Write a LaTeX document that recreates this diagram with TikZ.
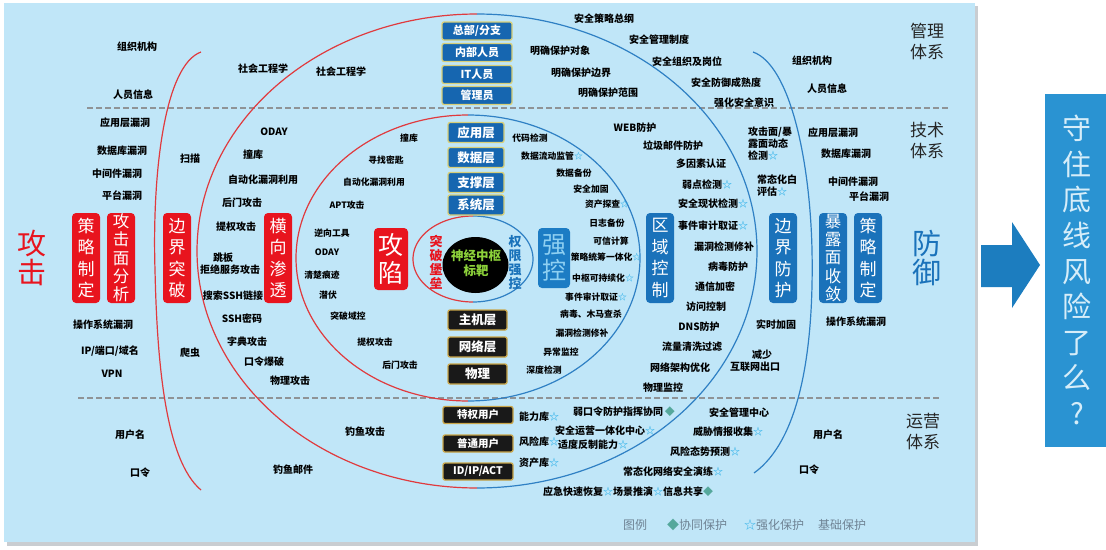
\documentclass[tikz,border=0pt]{standalone}
\usepackage{fontspec}
\setmainfont{Noto Sans CJK SC}
\usetikzlibrary{shapes.geometric}
\definecolor{panel}{HTML}{C0E6F8}
\definecolor{shadowc}{HTML}{C9CDD1}
\definecolor{atk}{HTML}{E8141E}
\definecolor{atkline}{HTML}{E03A3E}
\definecolor{dfn}{HTML}{1A72BA}
\definecolor{dfnline}{HTML}{2F80C4}
\definecolor{boxblue}{HTML}{1666B0}
\definecolor{boxedge}{HTML}{D8CF78}
\definecolor{goldedge}{HTML}{C9A64A}
\definecolor{dashc}{HTML}{8F9396}
\definecolor{starc}{HTML}{35B3EA}
\definecolor{diac}{HTML}{55A89C}
\definecolor{legc}{HTML}{6F8394}
\definecolor{neuro}{HTML}{8CD13A}
\definecolor{qbox}{HTML}{2A93D2}
\definecolor{qtext}{HTML}{D6EDF9}
\definecolor{arrowc}{HTML}{1C7DBF}
\definecolor{qiangbox}{HTML}{1C7CC4}
\definecolor{qiangtxt}{HTML}{8FD0F2}
\newcommand\mystar{{\color{starc}☆}}
\newcommand\mydia{{\color{diac}◆}}
\tikzset{
  lb/.style={inner sep=0pt, font=\fontsize{10}{12}\selectfont\bfseries},
  ls/.style={inner sep=0pt, font=\fontsize{8.8}{10}\selectfont\bfseries},
  vbox/.style={rounded corners=4pt, minimum width=28pt, minimum height=90pt, inner sep=0pt, text=white, align=center},
  redv/.style={vbox, fill=atk},
  bluev/.style={vbox, fill=dfn},
  fourc/.style={font=\fontsize{17}{21.5}\selectfont},
  fivec/.style={font=\fontsize{16.5}{18.3}\selectfont},
  mgmt/.style={draw=boxedge, line width=1.3pt, fill=boxblue, rounded corners=2pt, minimum width=70pt, minimum height=18pt, inner sep=0pt, text=white, font=\fontsize{11}{12}\selectfont\bfseries},
  tech/.style={draw=boxedge, line width=1.3pt, fill=boxblue, rounded corners=2pt, minimum width=56pt, minimum height=20pt, inner sep=0pt, text=white, font=\fontsize{12.5}{13}\selectfont\bfseries},
  blk/.style={draw=goldedge, line width=1.3pt, fill=black!90, rounded corners=2pt, minimum width=59pt, minimum height=20pt, inner sep=0pt, text=white, font=\fontsize{12.5}{13}\selectfont\bfseries},
  ops/.style={draw=goldedge, line width=1.3pt, fill=black!90, rounded corners=2pt, minimum width=70pt, minimum height=17pt, inner sep=0pt, text=white, font=\fontsize{10.5}{12}\selectfont\bfseries},
  sect/.style={inner sep=0pt, align=center, text=black!85, font=\fontsize{17}{21}\selectfont},
  redl/.style={atkline, line width=1.2pt},
  bluel/.style={dfnline, line width=1.2pt},
  dashl/.style={dashc, line width=1.6pt, dash pattern=on 6pt off 3pt},
  leg/.style={inner sep=0pt, text=legc, font=\fontsize{12}{14}\selectfont},
}
\begin{document}
\begin{tikzpicture}[x=1pt,y=-1pt]
\useasboundingbox (0,0) rectangle (1106,549);
\fill[white] (0,0) rectangle (1106,549);
\fill[shadowc] (7,6) rectangle (978,546);
\fill[panel] (4,3) rectangle (975,542);

% separators
\draw[dashl] (87,108) -- (948,108);
\draw[dashl] (78,398) -- (940,398);

% outer brackets
\draw[redl] (201,52) .. controls (165,65) and (152,170) .. (155,270) .. controls (157,360) and (165,460) .. (201,490);
\draw[bluel] (753,52) .. controls (790,65) and (810,160) .. (812,250) .. controls (814,350) and (800,440) .. (754,473);

% big ellipse
\draw[redl] plot[domain=90:270, samples=90, smooth] ({477+280*cos(\x)}, {251+237*sin(\x)});
\draw[bluel] plot[domain=-90:90, samples=90, smooth] ({477+280*cos(\x)}, {251+237*sin(\x)});
% medium ellipse
\draw[redl] plot[domain=90:270, samples=80, smooth] ({468+172*cos(\x)}, {258+143*sin(\x)});
\draw[bluel] plot[domain=-90:90, samples=80, smooth] ({468+172*cos(\x)}, {258+143*sin(\x)});
% small ellipse
\draw[redl] plot[domain=90:270, samples=60, smooth] ({473+60*cos(\x)}, {259+43*sin(\x)});
\draw[bluel] plot[domain=-90:90, samples=60, smooth] ({473+60*cos(\x)}, {259+43*sin(\x)});

% core
\node[ellipse, fill=black, minimum width=66pt, minimum height=56pt, inner sep=0pt] (core) at (475.5,265) {};
\node[inner sep=0pt, align=center, text=neuro, font=\fontsize{12.5}{15}\selectfont\bfseries] (coretxt) at (476,263) {神经中枢\\标靶};
\node[inner sep=0pt, align=center, text=atk, font=\fontsize{13}{14}\selectfont\bfseries] (tupo) at (436,262) {突\\破\\堡\\垒};
\node[inner sep=0pt, align=center, text=dfn, font=\fontsize{13}{14}\selectfont\bfseries] (quanxian) at (515,262) {权\\限\\强\\控};

% big side words
\node[inner sep=0pt, align=center, text=atk, font=\fontsize{29}{29}\selectfont] (gongji) at (32,258) {攻\\击};
\node[inner sep=0pt, align=center, text=dfn, font=\fontsize{29}{29}\selectfont] (fangyu) at (927,258) {防\\御};

% section labels
\node[sect] (s1) at (927,41) {管理\\体系};
\node[sect] (s2) at (927,141) {技术\\体系};
\node[sect] (s3) at (923,432) {运营\\体系};

% vertical boxes
\node[redv, fourc] (b1) at (86,258) {策\\略\\制\\定};
\node[redv, fivec] (b2) at (121,258) {攻\\击\\面\\分\\析};
\node[redv, fourc] (b3) at (177,258) {边\\界\\突\\破};
\node[redv, fourc] (b4) at (278,258) {横\\向\\渗\\透};
\node[vbox, fill=atk, minimum width=34pt, minimum height=62pt, font=\fontsize{25}{28}\selectfont] (b5) at (391,259) {攻\\陷};
\node[vbox, fill=qiangbox, text=qiangtxt, minimum width=32pt, minimum height=60pt, font=\fontsize{24}{26}\selectfont] (b6) at (554,258) {强\\控};
\node[bluev, fourc] (b7) at (660,258) {区\\域\\控\\制};
\node[bluev, fourc] (b8) at (783,258) {边\\界\\防\\护};
\node[bluev, fivec] (b9) at (833,258) {暴\\露\\面\\收\\敛};
\node[bluev, fourc] (b10) at (868,258) {策\\略\\制\\定};

% management boxes
\node[mgmt] (m1) at (477,31) {总部/分支};
\node[mgmt] (m2) at (477,52.5) {内部人员};
\node[mgmt] (m3) at (477,74.5) {IT人员};
\node[mgmt] (m4) at (477,95.5) {管理员};
% tech boxes
\node[tech] (t1) at (476,132.5) {应用层};
\node[tech] (t2) at (476,157.5) {数据层};
\node[tech] (t3) at (476,182.5) {支撑层};
\node[tech] (t4) at (476,205) {系统层};
\node[blk] (t5) at (477.5,320) {主机层};
\node[blk] (t6) at (477.5,347) {网络层};
\node[blk] (t7) at (477.5,374) {物理};
% ops boxes
\node[ops] (o1) at (478,415) {特权用户};
\node[ops] (o2) at (478,443.5) {普通用户};
\node[ops] (o3) at (478,471.5) {ID/IP/ACT};

% left outer labels
\node[lb] (l1) at (137,47) {组织机构};
\node[lb] (l2) at (133,95) {人员信息};
\node[lb] (l3) at (125,123) {应用层漏洞};
\node[lb] (l4) at (122,151) {数据库漏洞};
\node[lb] (l5) at (117,174) {中间件漏洞};
\node[lb] (l6) at (122,196) {平台漏洞};
\node[lb] (l7) at (103,325) {操作系统漏洞};
\node[lb] (l8) at (110,351) {IP/端口/域名};
\node[lb] (l9) at (112,374) {VPN};
\node[lb] (l10) at (130,435) {用户名};
\node[lb] (l11) at (140,473) {口令};

% between bracket and big ellipse (left)
\node[lb] (a1) at (263,69) {社会工程学};
\node[lb] (a2) at (190,159) {扫描};
\node[lb] (a3) at (190,353) {爬虫};
\node[lb] (a4) at (293,470) {钓鱼邮件};

% inside big ellipse, left
\node[lb] (c1) at (341,72) {社会工程学};
\node[lb] (c2) at (274,132) {ODAY};
\node[lb] (c3) at (253,155) {撞库};
\node[lb] (c4) at (263,180) {自动化漏洞利用};
\node[lb] (c5) at (242,203) {后门攻击};
\node[lb] (c6) at (236,227) {提权攻击};
\node[lb] (c7) at (223,258) {跳板};
\node[lb] (c8) at (230,270) {拒绝服务攻击};
\node[lb] (c9) at (233,296) {搜索SSH链接};
\node[lb] (c10) at (242,319) {SSH密码};
\node[lb] (c11) at (247,342) {字典攻击};
\node[lb] (c12) at (264,362) {口令爆破};
\node[lb] (c13) at (290,381) {物理攻击};
\node[lb] (c14) at (365,432) {钓鱼攻击};

% inside medium ellipse, left
\node[ls] (d1) at (409,138) {撞库};
\node[ls] (d2) at (386,160) {寻找密匙};
\node[ls] (d3) at (374,182) {自动化漏洞利用};
\node[ls] (d4) at (347,205) {APT攻击};
\node[ls] (d5) at (332,233) {逆向工具};
\node[ls] (d6) at (327,252) {ODAY};
\node[ls] (d7) at (322,275) {清楚痕迹};
\node[ls] (d8) at (328,295) {潜伏};
\node[ls] (d9) at (348,316) {突破域控};
\node[ls] (d10) at (375,342) {提权攻击};
\node[ls] (d11) at (400,365) {后门攻击};

% inside medium ellipse, right
\node[ls] (e1) at (530,138) {代码检测};
\node[ls] (e2) at (552,156) {数据流动监管\mystar};
\node[ls] (e3) at (574,173) {数据备份};
\node[ls] (e4) at (591,189) {安全加固};
\node[ls] (e5) at (607,204) {资产探查\mystar};
\node[ls] (e6) at (607,223) {日志备份};
\node[ls] (e7) at (611,241) {可信计算};
\node[ls] (e8) at (606,257) {策略统筹一体化\mystar};
\node[ls] (e9) at (603,278) {中枢可持续化\mystar};
\node[ls] (e10) at (596,297) {事件审计取证\mystar};
\node[ls] (e11) at (591,314) {病毒、木马查杀};
\node[ls] (e12) at (582,333) {漏洞检测修补};
\node[ls] (e13) at (561,352) {异常监控};
\node[ls] (e14) at (544,370) {深度检测};

% right, between medium and big ellipse
\node[lb] (f1) at (604,19) {安全策略总纲};
\node[lb] (f2) at (659,40) {安全管理制度};
\node[lb] (f3) at (560,51) {明确保护对象};
\node[lb] (f4) at (581,73) {明确保护边界};
\node[lb] (f5) at (608,93) {明确保护范围};
\node[lb] (f6) at (687,62) {安全组织及岗位};
\node[lb] (f7) at (726,83) {安全防御成熟度};
\node[lb] (f8) at (744,103) {强化安全意识};
\node[lb] (f9) at (635,128) {WEB防护};
\node[lb] (f10) at (673,146) {垃圾邮件防护};
\node[lb] (f11) at (701,164) {多因素认证};
\node[lb] (f12) at (707,185) {弱点检测\mystar};
\node[lb] (f13) at (713,204) {安全现状检测\mystar};
\node[lb] (f14) at (713,226) {事件审计取证\mystar};
\node[lb] (f15) at (724,247) {漏洞检测修补};
\node[lb] (f16) at (728,267) {病毒防护};
\node[lb] (f17) at (715,287) {通信加密};
\node[lb] (f18) at (706,307) {访问控制};
\node[lb] (f19) at (699,327) {DNS防护};
\node[lb] (f20) at (692,347) {流量清洗过滤};
\node[lb] (f21) at (680,368) {网络架构优化};
\node[lb] (f22) at (663,388) {物理监控};

% between big ellipse and right bracket
\node[lb, anchor=west, align=left, font=\fontsize{10}{11.7}\selectfont\bfseries] (g1) at (748,143.5) {攻击面/暴\\露面动态\\检测\mystar};
\node[lb, anchor=west, align=left, font=\fontsize{10}{12}\selectfont\bfseries] (g2) at (757,186) {常态化白\\评估\mystar};
\node[lb] (g3) at (776,325) {实时加固};
\node[lb] (g4) at (762,355) {减少};
\node[lb] (g5) at (755,367) {互联网出口};

% right outer labels
\node[lb] (r1) at (812,61) {组织机构};
\node[lb] (r2) at (827,89) {人员信息};
\node[lb] (r3) at (833,133) {应用层漏洞};
\node[lb] (r4) at (846,154) {数据库漏洞};
\node[lb] (r5) at (853,182) {中间件漏洞};
\node[lb] (r6) at (869,197) {平台漏洞};
\node[lb] (r7) at (856,322) {操作系统漏洞};
\node[lb] (r8) at (828,435) {用户名};
\node[lb] (r9) at (809,470) {口令};

% operations labels
\node[lb] (p1) at (539,417) {能力库\mystar};
\node[lb] (p2) at (539,442) {风险库\mystar};
\node[lb] (p3) at (539,463) {资产库\mystar};
\node[lb] (p4) at (624,412) {弱口令防护指挥协同\,\mydia};
\node[lb] (p5) at (605,431) {安全运营一体化中心\mystar};
\node[lb] (p6) at (593,445) {适度反制能力\mystar};
\node[lb] (p7) at (705,452) {风险态势预测\mystar};
\node[lb] (p8) at (673,472) {常态化网络安全演练\mystar};
\node[lb] (p9) at (628,492) {应急快速恢复\mystar 场景推演\mystar 信息共享\mydia};
\node[lb] (p10) at (739,413) {安全管理中心};
\node[lb] (p11) at (728,432) {威胁情报收集\mystar};

% legend
\node[leg] (lg1) at (635,525) {图例};
\node[leg] (lg2) at (697,525) {\mydia 协同保护};
\node[leg] (lg3) at (774,525) {\mystar 强化保护};
\node[leg] (lg4) at (842,525) {基础保护};

% arrow
\fill[arrowc] (981,245) -- (1012,245) -- (1012,222) -- (1040,265) -- (1012,308) -- (1012,287) -- (981,287) -- cycle;

% question box
\fill[qbox] (1045,94) rectangle (1106,447);
\node[inner sep=0pt, align=center, text=qtext, font=\fontsize{29}{35.6}\selectfont] (q) at (1077,270) {守\\住\\底\\线\\风\\险\\了\\么\\?};
\end{tikzpicture}
\end{document}
